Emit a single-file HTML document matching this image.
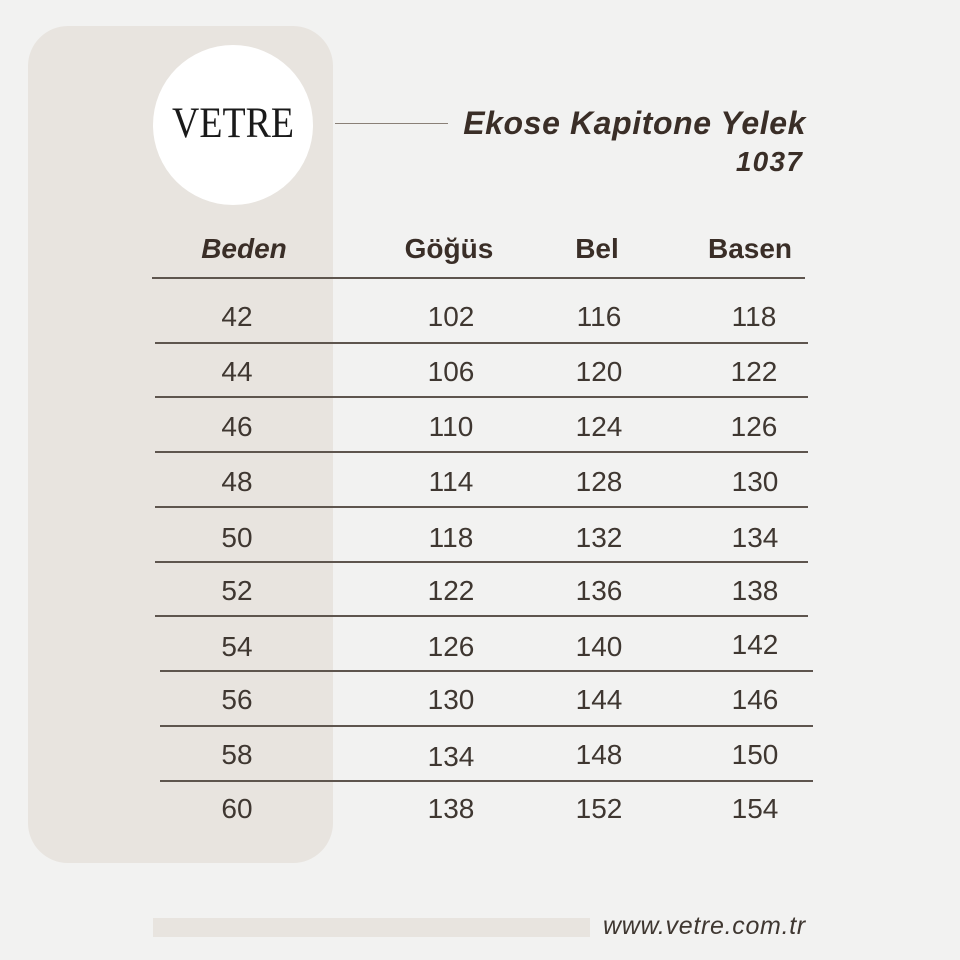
<!DOCTYPE html>
<html><head><meta charset="utf-8">
<style>
html,body{margin:0;padding:0;}
body{width:960px;height:960px;background:#f2f2f1;position:relative;overflow:hidden;font-family:"Liberation Sans",sans-serif;color:#3c332d;}
.abs{position:absolute;}
.panel{left:28px;top:26px;width:305px;height:837px;background:#e8e4df;border-radius:40px;}
.circle{left:153px;top:45px;width:160px;height:160px;border-radius:50%;background:#ffffff;}
.logo{left:153px;top:100px;width:160px;text-align:center;font-family:"Liberation Serif",serif;font-size:43px;line-height:48px;color:#1a1a1a;transform:scaleX(0.88);}
.conn{left:335px;top:123px;width:113px;height:1px;background:#8a8077;}
.title{right:154px;top:103px;font-weight:bold;font-style:italic;font-size:32px;line-height:40px;letter-spacing:0.6px;color:#3a2e27;white-space:nowrap;}
.code{right:157px;top:142px;font-weight:bold;font-style:italic;font-size:28px;line-height:40px;letter-spacing:1.2px;color:#3a2e27;}
.hd{width:160px;text-align:center;font-weight:bold;font-size:28px;line-height:40px;top:229px;color:#3a2e27;}
.c{width:120px;text-align:center;font-size:28px;line-height:40px;color:#3f3731;}
.ln{height:1.5px;background:#5e554e;}
.bar{left:153px;top:918px;width:437px;height:19px;background:#e8e4df;}
.url{left:603px;top:908px;font-style:italic;font-size:25px;line-height:36px;color:#3f3731;letter-spacing:0.7px;}
</style></head><body>
<div class="abs panel"></div>
<div class="abs circle"></div>
<div class="abs logo">VETRE</div>
<div class="abs conn"></div>
<div class="abs title">Ekose Kapitone Yelek</div>
<div class="abs code">1037</div>

<div class="abs hd" style="left:164px;font-style:italic;">Beden</div>
<div class="abs hd" style="left:369px;">Göğüs</div>
<div class="abs hd" style="left:517px;">Bel</div>
<div class="abs hd" style="left:670px;">Basen</div>

<div class="abs ln" style="left:152px;top:277px;width:653px;"></div>
<div class="abs ln" style="left:155px;top:342px;width:653px;"></div>
<div class="abs ln" style="left:155px;top:396px;width:653px;"></div>
<div class="abs ln" style="left:155px;top:451px;width:653px;"></div>
<div class="abs ln" style="left:155px;top:506px;width:653px;"></div>
<div class="abs ln" style="left:155px;top:561px;width:653px;"></div>
<div class="abs ln" style="left:155px;top:615px;width:653px;"></div>
<div class="abs ln" style="left:160px;top:670px;width:653px;"></div>
<div class="abs ln" style="left:160px;top:725px;width:653px;"></div>
<div class="abs ln" style="left:160px;top:780px;width:653px;"></div>

<div class="abs c" style="left:177px;top:297px;">42</div>
<div class="abs c" style="left:391px;top:297px;">102</div>
<div class="abs c" style="left:539px;top:297px;">116</div>
<div class="abs c" style="left:694px;top:297px;">118</div>

<div class="abs c" style="left:177px;top:352px;">44</div>
<div class="abs c" style="left:391px;top:352px;">106</div>
<div class="abs c" style="left:539px;top:352px;">120</div>
<div class="abs c" style="left:694px;top:352px;">122</div>

<div class="abs c" style="left:177px;top:407px;">46</div>
<div class="abs c" style="left:391px;top:407px;">110</div>
<div class="abs c" style="left:539px;top:407px;">124</div>
<div class="abs c" style="left:694px;top:407px;">126</div>

<div class="abs c" style="left:177px;top:462px;">48</div>
<div class="abs c" style="left:391px;top:462px;">114</div>
<div class="abs c" style="left:539px;top:462px;">128</div>
<div class="abs c" style="left:695px;top:462px;">130</div>

<div class="abs c" style="left:177px;top:518px;">50</div>
<div class="abs c" style="left:391px;top:518px;">118</div>
<div class="abs c" style="left:539px;top:518px;">132</div>
<div class="abs c" style="left:695px;top:518px;">134</div>

<div class="abs c" style="left:177px;top:571px;">52</div>
<div class="abs c" style="left:391px;top:571px;">122</div>
<div class="abs c" style="left:539px;top:571px;">136</div>
<div class="abs c" style="left:695px;top:571px;">138</div>

<div class="abs c" style="left:177px;top:627px;">54</div>
<div class="abs c" style="left:391px;top:627px;">126</div>
<div class="abs c" style="left:539px;top:627px;">140</div>
<div class="abs c" style="left:695px;top:625px;">142</div>

<div class="abs c" style="left:177px;top:680px;">56</div>
<div class="abs c" style="left:391px;top:680px;">130</div>
<div class="abs c" style="left:539px;top:680px;">144</div>
<div class="abs c" style="left:695px;top:680px;">146</div>

<div class="abs c" style="left:177px;top:735px;">58</div>
<div class="abs c" style="left:391px;top:737px;">134</div>
<div class="abs c" style="left:539px;top:735px;">148</div>
<div class="abs c" style="left:695px;top:735px;">150</div>

<div class="abs c" style="left:177px;top:789px;">60</div>
<div class="abs c" style="left:391px;top:789px;">138</div>
<div class="abs c" style="left:539px;top:789px;">152</div>
<div class="abs c" style="left:695px;top:789px;">154</div>

<div class="abs bar"></div>
<div class="abs url">www.vetre.com.tr</div>
</body></html>
